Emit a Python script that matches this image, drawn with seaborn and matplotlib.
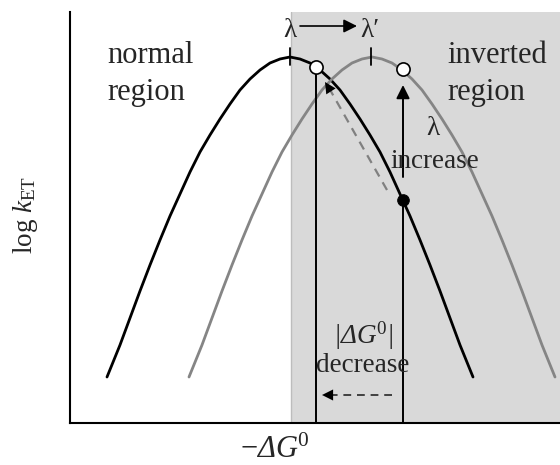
import matplotlib
matplotlib.use("Agg")
import matplotlib.pyplot as plt
import seaborn as sns
import pandas as pd

sns.set_style("white")
plt.rcParams["font.family"] = ["Liberation Serif", "DejaVu Serif"]
plt.rcParams["mathtext.fontset"] = "custom"
plt.rcParams["mathtext.rm"] = "Liberation Serif"
plt.rcParams["mathtext.it"] = "Liberation Serif:italic"
plt.rcParams["mathtext.bf"] = "Liberation Serif:italic"

# ---- data (arbitrary units: x = -dG0 axis, y = log k_ET) ----
black_x = [37, 50, 60, 70, 80, 90, 100, 110, 120, 130, 140, 150, 160, 170, 180, 190, 200, 210, 220,
           230, 240, 250, 260, 270, 280, 290, 300, 310, 320, 330, 340, 350, 360, 370, 380, 390, 403]
black_y = [46, 78, 105, 132, 158, 183, 207, 229, 251, 271, 288, 304, 319, 333, 344, 353, 360, 364, 366,
           364, 360, 353, 344, 333, 319, 304, 288, 271, 251, 229, 207, 183, 158, 132, 105, 78, 46]
gray_x = [119, 132, 142, 152, 162, 172, 182, 192, 202, 212, 222, 232, 242, 252, 262, 272, 282, 292, 302,
          312, 322, 332, 342, 352, 362, 372, 382, 392, 402, 412, 422, 432, 442, 452, 462, 472, 485]
gray_y = [46, 78, 105, 132, 158, 183, 207, 229, 251, 271, 288, 304, 319, 333, 344, 353, 360, 364, 366,
          364, 360, 353, 344, 333, 319, 304, 288, 271, 251, 229, 207, 183, 158, 132, 105, 78, 46]
peak_x = [220, 301]
open_x = [246, 333]
open_y = [356, 354]
solid_x = [333]
solid_y = [223]
inverted_start = 221

df = pd.DataFrame({
    "x": black_x + gray_x,
    "y": black_y + gray_y,
    "curve": ["lambda"] * len(black_x) + ["lambda_prime"] * len(gray_x),
})

fig = plt.figure(figsize=(5.6, 4.65), dpi=100)
ax = fig.add_axes([70 / 560, 42 / 465, 490 / 560, 411 / 465])
ax.set_xlim(0, 490)
ax.set_ylim(0, 411)

ax.axvspan(inverted_start, 490, color="#d9d9d9", lw=0, zorder=0)
ax.axvline(inverted_start, color="#bdbdbd", lw=1, zorder=0.5)

sns.lineplot(data=df, x="x", y="y", hue="curve", palette={"lambda": "black", "lambda_prime": "#858585"},
             sort=False, estimator=None, lw=2.0, legend=False, ax=ax, zorder=3)

# peak ticks
for px in peak_x:
    ax.plot([px, px], [358, 375], color="black", lw=1.3, zorder=4)

# vertical lines
ax.plot([open_x[0], open_x[0]], [0, open_y[0]], color="black", lw=1.4, zorder=4)
ax.plot([solid_x[0], solid_x[0]], [0, solid_y[0]], color="black", lw=1.4, zorder=4)

# up arrow (lambda increase)
ax.annotate("", xy=(333, 338), xytext=(333, 246),
            arrowprops=dict(arrowstyle="-|>", color="black", lw=1.4, mutation_scale=20, shrinkA=0, shrinkB=0), zorder=4)

# dashed diagonal arrow
ax.plot([317, 259], [233, 335], color="#808080", lw=1.6, ls=(0, (4, 3)), zorder=4)
ax.annotate("", xy=(255, 341), xytext=(262, 330),
            arrowprops=dict(arrowstyle="-|>", color="black", lw=0, mutation_scale=20, shrinkA=0, shrinkB=0), zorder=5)

# dashed bottom arrow
ax.plot([322, 262], [28, 28], color="#404040", lw=1.4, ls=(0, (4, 3)), zorder=4)
ax.annotate("", xy=(252, 28), xytext=(264, 28),
            arrowprops=dict(arrowstyle="-|>", color="black", lw=0, mutation_scale=20, shrinkA=0, shrinkB=0), zorder=5)

# top arrow lambda -> lambda'
ax.annotate("", xy=(287, 397), xytext=(230, 397),
            arrowprops=dict(arrowstyle="-|>", color="black", lw=1.2, mutation_scale=20, shrinkA=0, shrinkB=0),
            annotation_clip=False, zorder=5)

# markers
sns.scatterplot(x=open_x, y=open_y, s=90, color="white", edgecolor="black", linewidth=1.2, ax=ax, zorder=6, legend=False)
sns.scatterplot(x=solid_x, y=solid_y, s=70, color="black", edgecolor="black", ax=ax, zorder=6, legend=False)

big = 22
small = 19.5
ax.text(37, 360, "normal", fontsize=big, ha="left", va="baseline")
ax.text(37, 323, "region", fontsize=big, ha="left", va="baseline")
ax.text(377, 360, "inverted", fontsize=big, ha="left", va="baseline")
ax.text(377, 323, "region", fontsize=big, ha="left", va="baseline")
ax.text(363, 288, "λ", fontsize=small, ha="center", va="baseline", zorder=7)
ax.text(320, 255, "increase", fontsize=small, ha="left", va="baseline", zorder=7)
ax.text(293, 79, r"$\mathbf{|\Delta G}^{\mathrm{0}}\mathbf{|}$", fontsize=small, ha="center", va="baseline", zorder=7)
ax.text(293, 51, "decrease", fontsize=small, ha="center", va="baseline", zorder=7)
ax.text(220, 386, "λ", fontsize=small, ha="center", va="baseline", clip_on=False)
ax.text(300, 386, "λ′", fontsize=small, ha="center", va="baseline", clip_on=False)
ax.text(205, -27, r"$-\mathbf{\Delta G}^{\mathrm{0}}$", fontsize=22, ha="center", va="center", clip_on=False)
ax.text(-44, 208, r"$\mathrm{log}\ \mathit{k}_{\mathrm{ET}}$", fontsize=small, ha="center", va="center",
        rotation=90, clip_on=False)

ax.set_xticks([])
ax.set_yticks([])
ax.set_xlabel("")
ax.set_ylabel("")
for side in ["top", "right"]:
    ax.spines[side].set_visible(False)
for side in ["left", "bottom"]:
    ax.spines[side].set_color("black")
    ax.spines[side].set_linewidth(1.5)

fig.savefig("out.png", dpi=100)
